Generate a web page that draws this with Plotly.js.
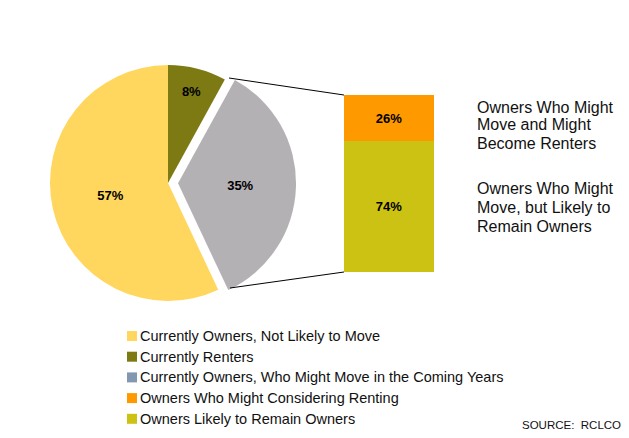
<!DOCTYPE html>
<html>
<head>
<meta charset="utf-8">
<script src="https://cdn.plot.ly/plotly-3.0.1.min.js"></script>
<style>html,body{margin:0;padding:0;background:#fff;}#chart{width:629px;height:438px;}</style>
</head>
<body>
<div id="chart"></div>
<script>
// ---- data ----
const pieLabels = ["Currently Renters", "Currently Owners, Who Might Move in the Coming Years", "Currently Owners, Not Likely to Move"];
const pieValues = [8, 35, 57];
const pieColors = ["#7D7A14", "#B4B1B5", "#FFD75E"];
const piePull = [0, 0.085, 0];

const barCategory = ["Owners Who Might Move"];
const barRemain = [74];
const barRent = [26];
const barRemainColor = "#CCC214";
const barRentColor = "#FF9900";

const sideLabelRent = ["Owners Who Might", "Move and Might", "Become Renters"];
const sideLabelRemain = ["Owners Who Might", "Move, but Likely to", "Remain Owners"];

const legendLabels = [
  "Currently Owners, Not Likely to Move",
  "Currently Renters",
  "Currently Owners, Who Might Move in the Coming Years",
  "Owners Who Might Considering Renting",
  "Owners Likely to Remain Owners"
];
const legendColors = ["#FFD75E", "#7D7A14", "#8497B0", "#FF9900", "#CCC214"];
const sourceText = "SOURCE:  RCLCO";

// ---- layout helpers ----
const W = 629, H = 438;
const px = x => x / W;
const py = y => 1 - y / H;
const FONT = "Liberation Sans, Arial, sans-serif";

const pieCx = 168, pieCy = 183, pieR = 118;
const D = 2 * pieR * (1 + Math.max(...piePull));

const traces = [
  {
    type: "pie",
    labels: pieLabels,
    values: pieValues,
    marker: {colors: pieColors, line: {width: 0}},
    pull: piePull,
    sort: false,
    direction: "clockwise",
    rotation: 0,
    texttemplate: "%{value}%",
    textposition: "inside",
    insidetextorientation: "horizontal",
    textfont: {family: FONT, size: 13, color: "#000", weight: "bold"},
    domain: {x: [px(pieCx - D / 2), px(pieCx + D / 2)], y: [py(pieCy + D / 2), py(pieCy - D / 2)]},
    showlegend: false,
    hoverinfo: "none"
  },
  {
    type: "bar", x: barCategory, y: barRemain, xaxis: "x", yaxis: "y",
    marker: {color: barRemainColor}, width: 1,
    text: barRemain.map(v => v + "%"), textposition: "inside", insidetextanchor: "middle",
    textfont: {family: FONT, size: 13, color: "#000", weight: "bold"},
    showlegend: false, hoverinfo: "none"
  },
  {
    type: "bar", x: barCategory, y: barRent, xaxis: "x", yaxis: "y",
    marker: {color: barRentColor}, width: 1,
    text: barRent.map(v => v + "%"), textposition: "inside", insidetextanchor: "middle",
    textfont: {family: FONT, size: 13, color: "#000", weight: "bold"},
    showlegend: false, hoverinfo: "none"
  }
];

const shapes = [
  {type: "line", xref: "paper", yref: "paper", x0: px(229), y0: py(78), x1: px(344), y1: py(95), line: {color: "#000", width: 1}},
  {type: "line", xref: "paper", yref: "paper", x0: px(230), y0: py(288), x1: px(344), y1: py(272), line: {color: "#000", width: 1}}
];
const annotations = [];

sideLabelRent.forEach((t, i) => annotations.push({
  xref: "paper", yref: "paper", x: px(475), y: py(107 + 18 * i), xanchor: "left", yanchor: "middle",
  text: t, showarrow: false, font: {family: FONT, size: 16, color: "#111"}
}));
sideLabelRemain.forEach((t, i) => annotations.push({
  xref: "paper", yref: "paper", x: px(475), y: py(189 + 18.5 * i), xanchor: "left", yanchor: "middle",
  text: t, showarrow: false, font: {family: FONT, size: 16, color: "#111"}
}));

legendLabels.forEach((t, i) => {
  const cy = 336 + 20.7 * i;
  shapes.push({type: "rect", xref: "paper", yref: "paper",
    x0: px(127), x1: px(137), y0: py(cy + 5), y1: py(cy - 5),
    fillcolor: legendColors[i], line: {width: 0}});
  annotations.push({xref: "paper", yref: "paper", x: px(138), y: py(cy), xanchor: "left", yanchor: "middle",
    text: t, showarrow: false, font: {family: FONT, size: 14.5, color: "#111"}});
});

annotations.push({xref: "paper", yref: "paper", x: px(520), y: py(425), xanchor: "left", yanchor: "middle",
  text: sourceText, showarrow: false, font: {family: FONT, size: 11.5, color: "#111"}});

const layout = {
  width: W, height: H,
  margin: {l: 0, r: 0, t: 0, b: 0},
  paper_bgcolor: "#fff", plot_bgcolor: "rgba(0,0,0,0)",
  barmode: "stack",
  xaxis: {domain: [px(344), px(434)], range: [-0.5, 0.5], visible: false, fixedrange: true},
  yaxis: {domain: [py(272), py(95)], range: [0, 100], visible: false, fixedrange: true},
  shapes: shapes,
  annotations: annotations,
  showlegend: false,
  font: {family: FONT}
};

Plotly.newPlot("chart", traces, layout, {displayModeBar: false, staticPlot: true});
</script>
</body>
</html>
